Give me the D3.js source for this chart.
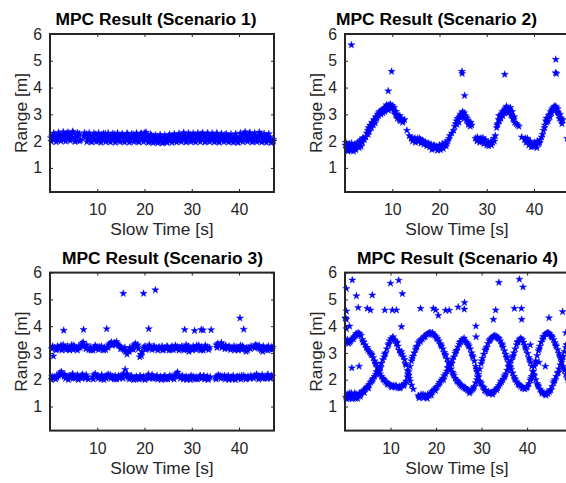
<!DOCTYPE html>
<html><head><meta charset="utf-8">
<script src="https://cdn.jsdelivr.net/npm/d3@7"></script>
<style>body{margin:0;background:#fff}svg{display:block}</style>
</head><body>
<svg id="c" width="566" height="483"></svg>
<script>
// ---------- data (slow time [s], range [m]) ----------
const xTicks = [10, 20, 30, 40];
const yTicks = [1, 2, 3, 4, 5, 6];
const titles = ["MPC Result (Scenario 1)", "MPC Result (Scenario 2)", "MPC Result (Scenario 3)", "MPC Result (Scenario 4)"];

const scenario1 = [[0.2,2.12],[0.45,2.18],[0.7,2.08],[0.95,2.22],[1.2,2.15],[1.45,2.05],[1.7,2.2],[1.95,2.26],[2.2,2.1],[2.45,2.17],[2.7,2.24],[2.95,2.06],[3.2,2.19],[3.45,2.28],[3.7,2.12],[3.95,2.2],[4.2,2.08],[4.45,2.25],[4.7,2.15],[4.95,2.3],[5.2,2.1],[5.45,2.22],[5.7,2.02],[5.95,2.18],[6.2,2.27],[6.45,2.05],[7.2,2.2],[7.45,2.12],[7.7,2.26],[7.95,2.08],[8.2,2.17],[8.45,2.23],[8.7,2.02],[8.95,2.14],[9.2,2.2],[9.45,2.06],[9.7,2.25],[9.95,2.1],[10.2,2.0],[10.45,2.18],[10.7,2.12],[10.95,2.24],[11.2,2.04],[11.45,2.15],[11.7,2.27],[11.95,2.09],[12.2,2.19],[12.45,2.01],[12.7,2.13],[12.95,2.22],[13.2,2.07],[13.45,2.16],[13.7,2.25],[13.95,2.03],[14.2,2.11],[14.45,2.2],[14.7,2.06],[14.95,2.17],[15.2,2.23],[15.45,2.0],[15.7,2.14],[15.95,2.19],[16.2,2.08],[16.45,2.26],[16.7,2.12],[16.95,2.03],[17.2,2.18],[17.45,2.1],[17.7,2.24],[17.95,2.05],[18.2,2.15],[18.45,2.21],[18.7,2.01],[18.95,2.13],[19.2,2.27],[19.45,2.09],[19.7,2.18],[19.95,2.3],[20.2,2.04],[20.45,2.16],[20.7,2.22],[20.95,1.99],[21.2,2.11],[21.45,2.2],[21.7,2.03],[21.95,2.14],[22.2,1.97],[22.45,2.08],[22.7,2.17],[22.95,1.98],[23.2,2.1],[23.45,2.02],[23.7,2.15],[23.95,1.96],[24.2,2.06],[24.45,2.13],[24.7,1.99],[24.95,2.09],[25.2,2.2],[25.45,2.02],[25.7,2.12],[25.95,2.19],[26.2,2.0],[26.45,2.1],[26.7,2.16],[26.95,2.04],[27.2,2.22],[27.45,2.11],[27.7,2.05],[27.95,2.18],[28.2,2.26],[28.45,2.08],[28.7,2.15],[28.95,2.01],[29.2,2.2],[29.45,2.12],[29.7,2.24],[29.95,2.06],[30.2,2.17],[30.45,2.02],[30.7,2.23],[30.95,2.1],[31.2,2.19],[31.45,2.04],[31.7,2.14],[31.95,2.25],[32.2,2.07],[32.45,2.16],[32.7,2.21],[32.95,2.0],[33.2,2.12],[33.45,2.26],[33.7,2.09],[33.95,2.18],[34.2,2.03],[34.45,2.13],[34.7,2.22],[34.95,2.06],[35.2,2.15],[35.45,2.24],[35.7,2.01],[35.95,2.11],[36.2,2.19],[36.45,2.05],[36.7,2.16],[36.95,2.23],[37.2,2.02],[37.45,2.12],[37.7,2.2],[37.95,2.07],[38.2,2.14],[38.45,2.0],[38.7,2.1],[38.95,2.18],[39.2,2.04],[39.45,2.13],[39.7,1.99],[39.95,2.08],[40.2,2.16],[40.45,2.03],[40.7,2.2],[40.95,2.27],[41.2,2.1],[41.45,2.23],[41.7,2.05],[41.95,2.17],[42.2,2.28],[42.45,2.09],[42.7,2.2],[42.95,2.01],[43.2,2.13],[43.45,2.22],[43.7,2.06],[43.95,2.15],[44.2,2.02],[44.45,2.19],[44.7,2.25],[44.95,2.08],[45.2,2.14],[45.45,2.0],[45.7,2.2],[45.95,2.1],[46.2,2.03],[46.45,2.16],[46.7,2.07],[46.95,1.99],[47.2,2.06]];
const scenario1Edge = [[0.3,1.98],[0.8,2.3],[1.3,1.97],[1.8,2.32],[2.3,2.0],[2.8,2.34],[3.3,1.99],[3.8,2.33],[4.3,2.02],[4.8,2.36],[5.3,1.98],[5.8,2.31],[6.3,2.0],[7.3,2.31],[7.8,1.97],[8.3,2.3],[8.8,1.96],[9.3,2.29],[9.8,1.98],[10.3,2.3],[10.8,1.95],[11.3,2.28],[11.8,1.97],[12.3,2.3],[12.8,1.96],[13.3,2.28],[13.8,1.95],[14.3,2.3],[14.8,1.97],[15.3,2.27],[15.8,1.96],[16.3,2.29],[16.8,1.95],[17.3,2.27],[17.8,1.97],[18.3,2.3],[18.8,1.96],[19.3,2.28],[19.8,1.97],[20.3,2.33],[20.8,1.95],[21.3,2.26],[21.8,1.94],[22.3,2.22],[22.8,1.93],[23.3,2.24],[23.8,1.92],[24.3,2.22],[24.8,1.94],[25.3,2.25],[25.8,1.95],[26.3,2.27],[26.8,1.96],[27.3,2.28],[27.8,1.97],[28.3,2.32],[28.8,1.96],[29.3,2.3],[29.8,1.97],[30.3,2.29],[30.8,1.96],[31.3,2.3],[31.8,1.97],[32.3,2.31],[32.8,1.96],[33.3,2.3],[33.8,1.97],[34.3,2.29],[34.8,1.96],[35.3,2.3],[35.8,1.95],[36.3,2.28],[36.8,1.97],[37.3,2.27],[37.8,1.96],[38.3,2.26],[38.8,1.95],[39.3,2.27],[39.8,1.94],[40.3,2.3],[40.8,1.97],[41.3,2.34],[41.8,1.98],[42.3,2.32],[42.8,1.96],[43.3,2.3],[43.8,1.97],[44.3,2.33],[44.8,1.96],[45.3,2.28],[45.8,1.95],[46.3,2.27],[46.8,1.94],[47.3,2.0]];

const scenario2 = [[0.1,1.85],[0.3,1.72],[0.5,1.8],[0.7,1.68],[0.9,1.9],[1.1,1.75],[1.3,1.65],[1.5,1.82],[1.7,1.7],[1.9,1.78],[2.1,1.88],[2.3,1.72],[2.5,1.8],[2.7,1.95],[2.9,1.85],[3.1,2.0],[3.3,1.9],[3.5,2.05],[3.7,1.95],[3.9,2.1],[4.1,2.05],[4.6,2.3],[4.8,2.4],[5.0,2.5],[5.1,2.35],[5.3,2.6],[5.5,2.55],[5.7,2.7],[5.9,2.65],[6.1,2.8],[6.3,2.75],[6.5,2.9],[6.7,2.85],[6.9,3.0],[7.1,2.95],[7.3,3.1],[7.5,3.05],[7.7,3.15],[7.9,3.1],[8.1,3.2],[8.3,3.15],[8.5,3.25],[8.7,3.2],[8.9,3.3],[9.1,3.25],[9.3,3.35],[9.5,3.28],[9.7,3.3],[9.9,3.22],[10.1,3.25],[10.3,3.15],[10.5,3.1],[10.7,3.0],[10.9,2.95],[11.1,2.85],[11.3,2.9],[11.5,2.8],[11.7,2.75],[12.0,2.85],[12.3,2.75],[12.6,2.8],[13.1,2.4],[13.6,2.2],[14.0,2.1],[14.3,2.0],[14.6,2.08],[14.9,1.95],[15.2,2.05],[15.5,1.98],[15.8,2.1],[16.1,1.92],[16.4,2.02],[16.7,1.88],[17.0,1.97],[17.3,1.82],[17.6,1.92],[17.9,1.78],[18.2,1.88],[18.5,1.75],[18.8,1.85],[19.1,1.72],[19.4,1.8],[19.7,1.7],[20.0,1.85],[20.3,1.75],[20.6,1.9],[20.9,1.82],[21.2,1.95],[21.5,1.9],[21.8,2.02],[22.2,2.2],[22.6,2.3],[23.0,2.4],[23.4,2.65],[23.6,2.75],[23.8,2.85],[24.0,2.8],[24.2,2.9],[24.4,3.0],[24.6,2.95],[24.8,3.05],[25.0,3.0],[25.2,3.05],[25.4,2.95],[25.6,2.9],[25.8,2.85],[26.0,2.75],[26.2,2.7],[26.4,2.65],[26.6,2.7],[26.8,2.6],[27.6,2.1],[27.9,2.0],[28.2,2.05],[28.5,1.95],[28.8,2.1],[29.1,2.0],[29.4,1.9],[29.7,2.05],[30.0,1.85],[30.3,1.95],[30.6,1.9],[30.9,2.0],[31.2,1.95],[31.5,2.1],[31.8,2.2],[32.1,2.5],[32.3,2.65],[32.5,2.8],[32.7,2.75],[32.9,2.95],[33.1,3.0],[33.3,3.1],[33.5,3.05],[33.7,3.15],[33.9,3.2],[34.1,3.25],[34.3,3.15],[34.5,3.22],[34.7,3.1],[34.9,3.15],[35.1,3.0],[35.3,2.95],[35.5,2.85],[35.7,2.8],[35.9,2.7],[36.2,2.65],[36.5,2.6],[37.4,2.15],[38.0,2.05],[38.3,1.95],[38.6,2.1],[38.9,1.85],[39.2,2.0],[39.5,1.9],[39.8,1.8],[40.1,1.95],[40.4,1.85],[40.7,2.0],[41.0,1.9],[41.3,2.05],[41.6,2.15],[42.0,2.4],[42.3,2.6],[42.5,2.75],[42.7,2.7],[42.9,2.85],[43.1,2.95],[43.3,3.0],[43.5,3.1],[43.7,3.05],[43.9,3.2],[44.1,3.25],[44.3,3.3],[44.5,3.2],[44.7,3.25],[44.9,3.1],[45.1,3.05],[45.3,2.95],[45.5,3.0],[45.7,2.85],[45.9,2.65],[47.0,2.1],
[1.35,5.59],[9.15,3.87],[9.86,4.6],[24.75,4.6],[24.8,4.52],[25.3,3.7],[33.8,4.49],[44.6,5.05],[44.55,4.55],[44.75,4.52]];
const scenario2Spread = [[0.2,1.95],[0.6,1.62],[1.0,1.7],[1.4,1.92],[1.8,1.62],[2.2,1.68],[2.6,1.9],[3.0,1.75],[3.4,1.8],[3.8,2.12],[4.4,2.15],[4.9,2.25],[5.2,2.45],[5.6,2.5],[6.0,2.6],[6.4,2.68],[6.8,2.9],[7.2,3.05],[7.6,3.0],[8.0,3.05],[8.4,3.1],[8.8,3.35],[9.2,3.15],[9.6,3.38],[10.0,3.32],[10.4,3.25],[10.8,3.1],[11.2,2.95],[11.6,2.95],[12.2,2.7],[14.2,2.12],[14.8,2.1],[15.4,2.1],[16.0,2.05],[16.6,1.98],[17.2,1.9],[17.8,1.88],[18.4,1.68],[19.0,1.82],[19.6,1.65],[20.2,1.68],[20.8,1.72],[21.4,1.82],[22.0,2.1],[23.2,2.55],[23.7,2.62],[24.1,2.7],[24.5,2.88],[24.9,3.1],[25.3,2.85],[25.7,2.78],[26.1,2.62],[26.5,2.55],[28.0,2.15],[28.6,2.08],[29.2,2.12],[29.8,1.95],[30.4,1.82],[31.0,1.85],[31.6,2.0],[32.2,2.6],[32.6,2.95],[33.0,2.85],[33.4,2.95],[33.8,3.05],[34.2,3.3],[34.6,3.05],[35.0,3.25],[35.4,3.1],[35.8,2.9],[36.8,2.55],[38.2,2.1],[38.8,2.0],[39.4,1.78],[40.0,1.82],[40.6,1.75],[41.2,1.95],[41.8,2.25],[42.2,2.5],[42.6,2.85],[43.0,2.75],[43.4,2.9],[43.8,3.15],[44.2,3.15],[44.6,3.3],[45.0,3.2],[45.4,2.85],[45.8,2.75],[46.1,2.8]];

const scenario3 = [[0.4,3.15],[0.7,2.88],[1.0,3.2],[1.3,3.1],[1.6,3.25],[1.9,3.15],[2.2,3.22],[2.5,3.1],[2.8,3.3],[3.1,3.18],[3.4,3.12],[3.7,3.25],[4.0,3.15],[4.3,3.2],[4.6,3.3],[4.9,3.12],[5.2,3.22],[5.5,3.15],[5.8,3.1],[6.1,3.25],[6.4,3.2],[6.7,3.35],[7.0,3.4],[7.3,3.28],[7.6,3.15],[7.9,3.2],[8.2,3.12],[8.5,3.22],[8.8,3.15],[9.1,3.1],[9.4,3.2],[9.7,3.15],[10.0,3.22],[10.3,3.12],[10.6,3.18],[10.9,3.25],[11.2,3.15],[11.5,3.2],[11.8,3.12],[12.1,3.22],[12.4,3.3],[12.7,3.35],[13.0,3.4],[13.3,3.32],[13.6,3.38],[13.9,3.3],[14.2,3.35],[14.5,3.28],[14.8,3.25],[15.1,3.2],[15.4,3.15],[15.7,3.1],[16.0,3.05],[16.3,2.95],[16.6,3.1],[16.9,3.2],[17.2,3.15],[17.5,3.22],[17.8,3.3],[18.1,3.35],[18.4,3.25],[18.7,3.15],[19.0,2.85],[19.2,2.95],[19.5,3.05],[19.8,3.2],[20.1,3.25],[20.4,3.15],[20.7,3.2],[21.0,3.3],[21.3,3.18],[21.6,3.12],[21.9,3.22],[22.2,3.15],[22.5,3.2],[22.8,3.1],[23.1,3.22],[23.4,3.15],[23.7,3.25],[24.0,3.12],[24.3,3.2],[24.6,3.15],[24.9,3.22],[25.2,3.1],[25.5,3.18],[25.8,3.25],[26.1,3.12],[26.4,3.2],[26.7,3.15],[27.0,3.22],[27.3,3.1],[27.6,3.18],[27.9,3.25],[28.2,3.15],[28.5,3.2],[28.8,3.3],[29.1,3.12],[29.4,3.05],[29.7,3.2],[30.0,3.15],[30.3,3.25],[30.6,3.18],[30.9,3.12],[31.2,3.2],[31.5,3.28],[31.8,3.15],[32.1,3.22],[32.4,3.1],[32.7,3.2],[33.0,3.15],[33.3,3.22],[33.6,3.12],[35.2,3.3],[35.5,3.35],[35.8,3.25],[36.1,3.3],[36.4,3.2],[36.7,3.28],[37.0,3.15],[37.3,3.22],[37.6,3.18],[37.9,3.25],[38.2,3.12],[38.5,3.2],[38.8,3.15],[39.1,3.1],[39.4,3.22],[39.7,3.15],[40.0,3.2],[40.3,3.28],[40.6,3.12],[40.9,3.2],[41.2,3.15],[41.5,3.05],[41.8,3.1],[42.1,3.2],[42.4,3.15],[43.2,3.25],[43.5,3.3],[43.8,3.28],[44.1,3.2],[44.4,3.15],[44.7,3.1],[45.0,3.05],[45.3,3.18],[45.6,3.12],[45.9,3.2],[46.2,3.25],[46.5,3.15],[46.8,3.22],[47.1,3.2],
[0.3,2.0],[0.6,2.05],[0.9,2.1],[1.2,2.02],[1.5,2.08],[1.8,2.15],[2.1,2.25],[2.4,2.3],[2.7,2.2],[3.0,2.12],[3.3,2.05],[3.6,2.1],[3.9,2.0],[4.2,2.08],[4.5,2.15],[4.8,2.22],[5.1,2.1],[5.4,2.05],[5.7,2.12],[6.0,2.0],[6.3,2.08],[6.6,2.15],[6.9,2.2],[7.2,2.12],[7.5,2.05],[7.8,2.1],[8.1,2.02],[9.0,2.1],[9.3,2.18],[9.6,2.22],[9.9,2.12],[10.2,2.05],[10.5,2.1],[10.8,2.02],[11.1,2.08],[11.4,2.0],[11.7,2.12],[12.0,2.15],[12.3,2.2],[12.6,2.1],[12.9,2.05],[13.2,2.12],[13.5,2.08],[13.8,2.15],[14.1,2.02],[14.4,2.1],[14.7,2.05],[15.0,2.12],[15.3,2.18],[15.6,2.22],[15.9,2.38],[16.2,2.15],[16.5,2.08],[16.8,2.02],[17.1,2.1],[17.4,2.05],[17.7,2.0],[18.0,2.08],[18.3,2.12],[18.6,2.05],[18.9,2.02],[19.2,2.1],[19.5,2.05],[19.8,2.12],[20.1,2.0],[20.4,2.08],[20.7,2.15],[21.0,2.05],[21.3,2.1],[21.6,2.18],[21.9,2.12],[22.2,2.05],[22.5,2.1],[22.8,2.02],[23.1,2.08],[23.4,2.12],[23.7,2.05],[24.0,2.1],[24.3,2.15],[24.6,2.08],[24.9,2.02],[25.2,2.1],[25.5,2.05],[25.8,2.12],[26.1,2.08],[26.4,2.15],[26.7,2.22],[27.0,2.28],[27.3,2.12],[27.6,2.05],[27.9,2.1],[28.2,2.02],[28.5,2.08],[28.8,2.12],[29.1,2.05],[29.4,2.1],[29.7,2.0],[30.0,2.08],[30.3,2.12],[30.6,2.05],[30.9,2.1],[31.2,2.02],[31.5,2.08],[31.8,2.15],[32.1,2.05],[32.4,2.1],[32.7,2.02],[33.0,2.08],[33.3,2.12],[33.6,2.05],[33.9,2.1],[35.0,2.08],[35.3,2.12],[35.6,2.18],[35.9,2.1],[36.2,2.05],[36.5,2.12],[36.8,2.08],[37.1,2.02],[37.4,2.1],[37.7,2.15],[38.0,2.05],[38.3,2.1],[38.6,2.02],[38.9,2.08],[39.2,2.0],[39.5,2.1],[39.8,2.05],[40.1,2.12],[40.4,2.02],[40.7,2.08],[41.0,2.15],[41.3,2.1],[41.6,2.05],[41.9,2.12],[42.2,2.08],[42.5,2.15],[42.8,2.1],[43.1,2.05],[43.4,2.12],[43.7,2.2],[44.0,2.15],[44.3,2.08],[44.6,2.12],[44.9,2.18],[45.2,2.1],[45.5,2.05],[45.8,2.12],[46.1,2.2],[46.4,2.1],[46.7,2.05],[47.0,2.12],
[2.9,3.84],[7.1,3.87],[12.0,3.9],[15.5,5.22],[19.8,5.22],[22.3,5.35],[20.9,3.9],[28.5,3.87],[30.6,3.83],[32.0,3.87],[32.4,3.85],[34.1,3.86],[40.2,4.3],[41.0,3.88]];
const scenario3Spread = [[0.55,3.25],[1.45,3.15],[2.35,3.28],[3.25,3.22],[4.15,3.1],[5.05,3.28],[5.95,3.18],[6.85,3.25],[7.75,3.3],[8.65,3.1],[9.55,3.28],[10.45,3.22],[11.35,3.1],[12.25,3.2],[13.15,3.28],[14.05,3.42],[14.95,3.15],[15.85,3.2],[16.75,3.05],[17.65,3.12],[18.55,3.3],[19.35,2.9],[20.25,3.12],[21.15,3.2],[22.05,3.25],[22.95,3.18],[23.85,3.1],[24.75,3.25],[25.65,3.12],[26.55,3.28],[27.45,3.2],[28.35,3.1],[29.25,3.25],[30.15,3.1],[31.05,3.28],[31.95,3.1],[32.85,3.28],[33.75,3.2],[35.35,3.2],[36.25,3.38],[37.15,3.28],[38.05,3.2],[38.95,3.25],[39.85,3.1],[40.75,3.25],[41.65,3.2],[42.55,3.25],[43.35,3.18],[44.25,3.28],[45.15,3.25],[46.05,3.1],[46.95,3.12],
[0.45,2.12],[1.35,2.15],[2.25,2.18],[3.15,2.2],[4.05,2.15],[4.95,2.05],[5.85,2.18],[6.75,2.05],[7.65,2.18],[9.15,2.02],[10.05,2.15],[10.95,2.18],[11.85,2.05],[12.75,2.18],[13.65,2.02],[14.55,2.15],[15.45,2.05],[16.35,2.22],[17.25,2.15],[18.15,2.02],[19.05,2.15],[19.95,2.05],[20.85,2.2],[21.75,2.05],[22.65,2.15],[23.55,2.0],[24.45,2.02],[25.35,2.15],[26.25,2.02],[27.15,2.18],[28.05,2.15],[28.95,2.0],[29.85,2.15],[30.75,2.02],[31.65,2.12],[32.55,2.15],[33.45,2.0],[35.15,2.02],[36.05,2.15],[36.95,2.15],[37.85,2.0],[38.75,2.15],[39.65,2.12],[40.55,2.15],[41.45,2.02],[42.35,2.05],[43.25,2.15],[44.15,2.02],[45.05,2.05],[45.95,2.05],[46.85,2.15]];

const scenario4 = [[0.2,1.35],[0.5,1.45],[0.8,1.3],[1.1,1.4],[1.4,1.5],[1.7,1.35],[2.0,1.42],[2.3,1.3],[2.6,1.45],[2.9,1.38],[3.2,1.5],[3.5,1.45],[3.8,1.55],[4.1,1.6],[4.4,1.65],[4.7,1.7],[5.0,1.75],[5.3,1.82],[5.6,1.9],[5.9,1.95],[6.2,2.05],[6.5,2.12],[6.8,2.2],[7.1,2.28],[7.4,2.4],[7.7,2.5],[8.0,2.62],[8.3,2.75],[8.6,2.85],[8.9,3.0],[9.2,3.15],[9.5,3.3],[9.8,3.45],[10.1,3.52],[10.4,3.55],[10.7,3.5],[11.0,3.45],[11.3,3.35],[11.6,3.25],[11.9,3.1],[12.2,3.0],[12.5,2.95],[12.8,2.85],[13.1,2.75],[13.4,2.55],[13.7,2.35],[14.0,2.15],[14.3,1.95],[14.6,1.8],[15.0,1.65],[16.1,1.4],[16.4,1.35],[16.7,1.45],[17.0,1.38],[17.3,1.32],[17.6,1.42],[17.9,1.35],[18.2,1.45],[18.5,1.4],[18.8,1.5],[19.1,1.55],[19.4,1.6],[19.7,1.65],[20.0,1.7],[20.3,1.75],[20.6,1.82],[20.9,1.9],[21.2,1.98],[21.5,2.05],[21.8,2.15],[22.1,2.22],[22.4,2.32],[22.7,2.42],[23.0,2.5],[23.3,2.62],[23.6,2.75],[23.9,2.85],[24.2,2.98],[24.5,3.1],[24.8,3.22],[25.1,3.32],[25.4,3.42],[25.7,3.5],[26.0,3.48],[26.3,3.45],[26.6,3.4],[26.9,3.35],[27.2,3.25],[27.5,3.15],[27.8,3.0],[28.1,2.85],[28.4,2.7],[28.7,2.5],[29.0,2.3],[29.3,2.1],[29.6,1.95],[29.9,1.85],[30.2,1.75],[30.5,1.7],[30.8,1.6],[31.1,1.55],[31.4,1.5],[31.7,1.48],[32.0,1.52],[32.3,1.5],[32.6,1.55],[32.9,1.6],[33.2,1.65],[33.5,1.7],[33.8,1.78],[34.1,1.85],[34.4,1.92],[34.7,2.0],[35.0,2.1],[35.3,2.22],[35.6,2.35],[35.9,2.48],[36.2,2.6],[36.5,2.72],[36.8,2.85],[37.1,3.0],[37.4,3.15],[37.7,3.3],[38.0,3.42],[38.3,3.5],[38.6,3.55],[38.9,3.5],[39.2,3.4],[39.5,3.28],[39.8,3.12],[40.1,2.98],[40.4,2.82],[40.7,2.65],[41.0,2.5],[41.3,2.32],[41.6,2.15],[41.9,2.0],[42.2,1.85],[42.5,1.75],[42.8,1.65],[43.1,1.58],[43.4,1.52],[43.7,1.48],[44.0,1.45],[44.3,1.5],[44.6,1.48],[44.9,1.55],[45.2,1.62],[45.5,1.75],[45.8,1.88],[46.1,2.0],[46.4,2.12],[46.7,2.25],[47.0,2.4],[47.3,2.55],[47.6,2.72],[47.9,2.88],[48.2,3.05],[48.5,3.2],[48.8,3.3],[49.1,3.35],
[0.1,4.3],[0.3,3.9],[0.5,3.5],[0.8,3.35],[1.1,3.4],[1.4,3.5],[1.7,3.55],[2.0,3.6],[2.3,3.65],[2.6,3.7],[2.9,3.75],[3.2,3.72],[3.5,3.65],[3.8,3.5],[4.1,3.4],[4.4,3.3],[4.7,3.2],[5.0,3.12],[5.3,3.05],[5.6,3.0],[5.9,2.92],[6.2,2.82],[6.5,2.7],[6.8,2.58],[7.1,2.45],[7.4,2.35],[7.7,2.22],[8.0,2.12],[8.3,2.05],[8.6,1.98],[8.9,1.92],[9.2,1.88],[9.5,1.85],[9.8,1.82],[10.1,1.78],[10.4,1.75],[10.7,1.78],[11.0,1.72],[11.3,1.75],[11.6,1.7],[11.9,1.75],[12.2,1.72],[12.5,1.78],[12.8,1.8],[13.1,1.85],[13.4,1.95],[13.7,2.1],[14.0,2.3],[14.3,2.5],[14.6,2.7],[14.9,2.88],[15.2,3.0],[15.5,3.12],[15.8,3.25],[16.1,3.38],[16.4,3.45],[16.7,3.5],[17.0,3.52],[17.3,3.58],[17.6,3.62],[17.9,3.68],[18.2,3.72],[18.5,3.75],[18.8,3.75],[19.1,3.72],[19.4,3.68],[19.7,3.65],[20.0,3.6],[20.3,3.52],[20.6,3.45],[20.9,3.35],[21.2,3.25],[21.5,3.15],[21.8,3.02],[22.1,2.9],[22.4,2.78],[22.7,2.65],[23.0,2.52],[23.3,2.4],[23.6,2.28],[23.9,2.15],[24.2,2.05],[24.5,1.98],[24.8,1.92],[25.1,1.85],[25.4,1.8],[25.7,1.75],[26.0,1.72],[26.3,1.7],[26.6,1.65],[26.9,1.62],[27.2,1.58],[27.5,1.55],[27.8,1.6],[28.1,1.65],[28.4,1.75],[28.7,1.88],[29.0,2.0],[29.3,2.2],[29.6,2.4],[29.9,2.6],[30.2,2.8],[30.5,2.95],[30.8,3.1],[31.1,3.22],[31.4,3.35],[31.7,3.45],[32.0,3.52],[32.3,3.58],[32.6,3.62],[32.9,3.65],[33.2,3.62],[33.5,3.58],[33.8,3.52],[34.1,3.45],[34.4,3.35],[34.7,3.22],[35.0,3.08],[35.3,2.95],[35.6,2.8],[35.9,2.65],[36.2,2.5],[36.5,2.38],[36.8,2.25],[37.1,2.12],[37.4,2.0],[37.7,1.92],[38.0,1.85],[38.3,1.8],[38.6,1.75],[38.9,1.7],[39.2,1.68],[39.5,1.65],[39.8,1.7],[40.1,1.75],[40.4,1.85],[40.7,1.98],[41.0,2.12],[41.3,2.3],[41.6,2.5],[41.9,2.7],[42.2,2.9],[42.5,3.08],[42.8,3.25],[43.1,3.4],[43.4,3.52],[43.7,3.62],[44.0,3.7],[44.3,3.72],[44.6,3.75],[44.9,3.72],[45.2,3.65],[45.5,3.58],[45.8,3.5],[46.1,3.38],[46.4,3.25],[46.7,3.12],[47.0,2.98],[47.3,2.82],[47.6,2.65],[47.9,2.5],[48.2,2.35],[48.5,2.2],[48.8,2.08],
[0.3,5.4],[1.6,5.72],[2.5,5.13],[2.9,4.69],[0.3,4.56],[0.1,4.3],[0.3,4.25],[1.0,4.0],[1.5,2.44],[3.1,2.5],[4.9,4.66],[5.6,4.6],[6.0,5.16],[8.75,4.6],[10.0,5.6],[10.4,4.6],[11.3,4.6],[11.8,5.71],[12.6,5.21],[12.4,3.98],[16.6,4.66],[19.4,4.66],[19.9,4.6],[20.5,4.4],[22.1,4.59],[22.9,4.59],[24.85,4.71],[26.25,4.88],[26.2,4.63],[28.75,4.0],[28.8,3.6],[32.6,4.25],[33.1,4.6],[33.8,5.63],[37.2,4.66],[38.3,5.75],[38.75,4.66],[39.1,5.46],[38.8,4.25],[40.7,3.3],[42.6,2.65],[44.0,2.5],[44.8,4.31],[47.8,4.54],[48.5,3.75]];
const scenario4Spread = [[0.35,1.28],[0.95,1.5],[1.55,1.28],[2.15,1.5],[2.75,1.3],[3.35,1.38],[4.25,1.52],[5.15,1.68],[6.05,2.0],[6.95,2.3],[7.85,2.45],[8.75,2.95],[9.65,3.35],[10.55,3.6],[11.45,3.4],[12.35,3.05],[13.25,2.6],[14.15,2.05],[16.25,1.32],[17.15,1.45],[18.05,1.3],[18.95,1.42],[19.85,1.6],[20.75,1.9],[21.65,2.0],[22.55,2.45],[23.45,2.6],[24.35,3.05],[25.25,3.4],[26.15,3.55],[27.05,3.3],[27.95,2.9],[28.85,2.4],[29.75,1.9],[30.65,1.6],[31.55,1.55],[32.45,1.45],[33.35,1.62],[34.25,1.95],[35.15,2.15],[36.05,2.5],[36.95,2.9],[37.85,3.4],[38.75,3.48],[39.65,3.2],[40.55,2.75],[41.45,2.2],[42.35,1.8],[43.25,1.5],[44.15,1.42],[45.05,1.62],[45.95,1.95],[46.85,2.28],[47.75,2.85],[48.65,3.3],
[0.65,3.4],[1.25,3.45],[1.85,3.52],[2.45,3.72],[3.05,3.68],[3.95,3.42],[4.85,3.2],[5.75,2.95],[6.65,2.62],[7.55,2.3],[8.45,2.02],[9.35,1.82],[10.25,1.72],[11.15,1.78],[12.05,1.68],[12.95,1.78],[13.85,2.2],[14.75,2.8],[15.65,3.2],[16.55,3.42],[17.45,3.62],[18.35,3.7],[19.25,3.75],[20.15,3.55],[21.05,3.3],[21.95,2.95],[22.85,2.6],[23.75,2.22],[24.65,1.95],[25.55,1.8],[26.45,1.68],[27.35,1.5],[28.25,1.7],[29.15,2.1],[30.05,2.7],[30.95,3.15],[31.85,3.5],[32.75,3.6],[33.65,3.55],[34.55,3.3],[35.45,2.85],[36.35,2.45],[37.25,2.05],[38.15,1.82],[39.05,1.7],[39.95,1.72],[40.85,2.05],[41.75,2.6],[42.65,3.15],[43.55,3.6],[44.45,3.75],[45.35,3.62],[46.25,3.3],[47.15,2.9],[48.05,2.42],[48.95,2.0]];

const allData = [scenario1.concat(scenario1Edge), scenario2.concat(scenario2Spread),
                 scenario3.concat(scenario3Spread), scenario4.concat(scenario4Spread)];
const xMaxes = [47.4, 47.4, 47.4, 49.2];

// ---------- layout ----------
const lefts = [50, 345, 50, 345];
const tops = [34, 34, 272.6, 272.6];
const titleCx = [156, 436.5, 162.5, 457.5];
const W = 224, H = 158;
const ink = "#262626";
const font = "'Liberation Sans', Arial, Helvetica, sans-serif";

const svg = d3.select("#c");
const star = d3.symbol().type(d3.symbolStar).size(16)();

allData.forEach((data, i) => {
  const x = d3.scaleLinear().domain([0, xMaxes[i]]).range([0, W]);
  const y = d3.scaleLinear().domain([0.1, 6]).range([H, 0]);
  const g = svg.append("g").attr("transform", `translate(${lefts[i]},${tops[i]})`);

  // markers
  g.append("g").selectAll("path").data(data).join("path")
    .attr("d", star)
    .attr("transform", d => `translate(${x(d[0])},${y(d[1])})`)
    .attr("fill", "#0000ff").attr("stroke", "#0000ff").attr("stroke-width", 0.4);

  const fmt = d3.format("d");
  const styleAxis = sel => {
    sel.select(".domain").remove();
    sel.selectAll("line").attr("stroke", ink).attr("stroke-width", 1);
    sel.selectAll("text").attr("fill", ink).style("font-family", font).style("font-size", "15.8px");
  };
  g.append("g").attr("transform", `translate(0,${H})`)
    .call(d3.axisBottom(x).tickValues(xTicks).tickFormat(fmt).tickSizeInner(-3).tickSizeOuter(0).tickPadding(12))
    .call(styleAxis);
  g.append("g")
    .call(d3.axisTop(x).tickValues(xTicks).tickSizeInner(-3).tickSizeOuter(0).tickFormat(""))
    .call(styleAxis);
  g.append("g")
    .call(d3.axisLeft(y).tickValues(yTicks).tickFormat(fmt).tickSizeInner(-3).tickSizeOuter(0).tickPadding(8))
    .call(styleAxis);
  g.append("g").attr("transform", `translate(${W},0)`)
    .call(d3.axisRight(y).tickValues(yTicks).tickSizeInner(-3).tickSizeOuter(0).tickFormat(""))
    .call(styleAxis);

  g.append("rect").attr("width", W).attr("height", H)
    .attr("fill", "none").attr("stroke", ink).attr("stroke-width", 2);

  // labels
  g.append("text").attr("x", W / 2).attr("y", H + 43)
    .attr("text-anchor", "middle").attr("fill", ink)
    .style("font-family", font).style("font-size", "17.4px").text("Slow Time [s]");
  g.append("text").attr("transform", `translate(-23.5,${H / 2}) rotate(-90)`)
    .attr("text-anchor", "middle").attr("fill", ink)
    .style("font-family", font).style("font-size", "17.4px").text("Range [m]");
  svg.append("text").attr("x", titleCx[i]).attr("y", tops[i] - 9)
    .attr("text-anchor", "middle").attr("fill", "#000")
    .style("font-family", font).style("font-size", "17.4px").style("font-weight", "bold")
    .text(titles[i]);
});
</script>
</body></html>
